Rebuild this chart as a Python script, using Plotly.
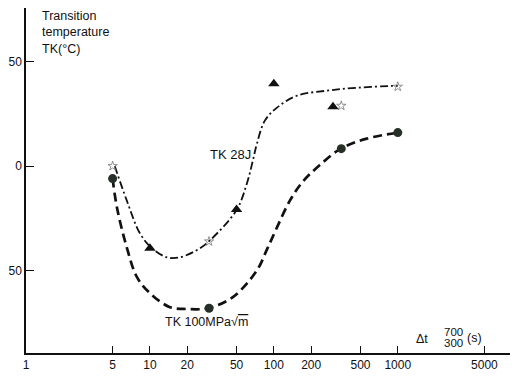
import plotly.graph_objects as go

# ---- data ----
# smooth curves
tk28_x = [5.2, 6.5, 8.3, 10.4, 13.7, 17.5, 25.3, 30.5, 50, 60.6, 67.7, 73, 84.6, 106, 153, 267, 467, 911, 1000]
tk28_y = [0, -16.4, -32.1, -39.3, -43.6, -43.6, -39.3, -35.5, -21, -8.3, 2.6, 10.7, 21.7, 27.9, 33.6, 36, 37.4, 38.3, 38.3]

tk100_x = [5, 5.42, 6.5, 7.86, 10, 14.5, 19.9, 29.4, 46.7, 73, 88, 106, 135, 171, 235, 347, 562, 1018]
tk100_y = [-6, -19.8, -38.8, -53.1, -60.7, -67.4, -68.3, -67.9, -62.6, -49.8, -39.8, -29.3, -16.4, -7.5, 0.5, 8.3, 13.1, 16]

# measured points
star_x = [5, 30, 350, 1000]
star_y = [0, -36, 28.8, 37.9]
tri_x = [10, 50, 100, 300]
tri_y = [-39.3, -20.7, 39.3, 28.3]
circ_x = [5, 30, 350, 1000]
circ_y = [-6, -67.9, 8.3, 16]

x_tickvals = [1, 5, 10, 20, 50, 100, 200, 500, 1000, 5000]
x_ticktext = ["1", "5", "10", "20", "50", "100", "200", "500", "1000", "5000"]
y_tickvals = [-50, 0, 50]
y_ticktext = ["50", "0", "50"]

INK = "#111111"
FONT = "Liberation Sans, Arial, sans-serif"

fig = go.Figure()
fig.add_trace(go.Scatter(x=tk28_x, y=tk28_y, mode="lines",
                         line=dict(color=INK, width=1.8, dash="8px,3px,2px,3px", shape="spline", smoothing=1.0),
                         hoverinfo="skip"))
fig.add_trace(go.Scatter(x=tk100_x, y=tk100_y, mode="lines",
                         line=dict(color=INK, width=2.7, dash="9px,5px", shape="spline", smoothing=1.0),
                         hoverinfo="skip"))
fig.add_trace(go.Scatter(x=star_x, y=star_y, mode="markers",
                         marker=dict(symbol="star-open", size=7, color="#777", line=dict(width=0.8, color="#777"))))
fig.add_trace(go.Scatter(x=tri_x, y=tri_y, mode="markers",
                         marker=dict(symbol="triangle-up", size=10, color=INK)))
fig.add_trace(go.Scatter(x=circ_x, y=circ_y, mode="markers",
                         marker=dict(symbol="circle", size=9, color="#263026")))

# plot area on the page: x 26..518, y 8..353 (page body adds an 8px offset)
def px2paper(px, py):
    return (px - 26) / 492.0, (353 - py) / 345.0

annots = []
def add_text(text, px, py, xanchor="left", yanchor="middle", size=12.5):
    x, y = px2paper(px, py)
    annots.append(dict(text=text, x=x, y=y, xref="paper", yref="paper", showarrow=False,
                       xanchor=xanchor, yanchor=yanchor, font=dict(size=size, color=INK, family=FONT),
                       align="left"))

add_text("Transition<br>temperature<br>TK(°C)", 40, 7, yanchor="top", size=12.5)
add_text("TK 28J", 253, 154, xanchor="right", size=13)
add_text("TK 100MPa√<span style='text-decoration:overline'>m</span>", 163, 322, size=12.5)
add_text("Δt", 414, 339, size=12.5)
add_text("700", 453, 332, xanchor="center", size=11.5)
add_text("300", 453, 343, xanchor="center", size=11.5)
add_text("(s)", 465, 338, size=12.5)

fig.update_layout(
    width=510, height=369,
    margin=dict(l=18, r=0, t=0, b=24, pad=0),
    paper_bgcolor="white", plot_bgcolor="white",
    showlegend=False,
    font=dict(family=FONT, size=12, color=INK),
    annotations=annots,
    xaxis=dict(type="log", range=[0, 3.97], tickvals=x_tickvals, ticktext=x_ticktext,
               automargin=False,
               showgrid=False, zeroline=False, showline=True, linecolor=INK, linewidth=1.8,
               ticks="inside", ticklen=7, tickcolor=INK, tickwidth=1, tickfont=dict(size=12)),
    yaxis=dict(range=[-89.3, 75.5], tickvals=y_tickvals, ticktext=y_ticktext,
               automargin=False,
               showgrid=False, zeroline=False, showline=True, linecolor=INK, linewidth=1.5,
               ticks="inside", ticklen=8, tickcolor=INK, tickwidth=1, tickfont=dict(size=12)),
)

fig.write_html("out.html")
